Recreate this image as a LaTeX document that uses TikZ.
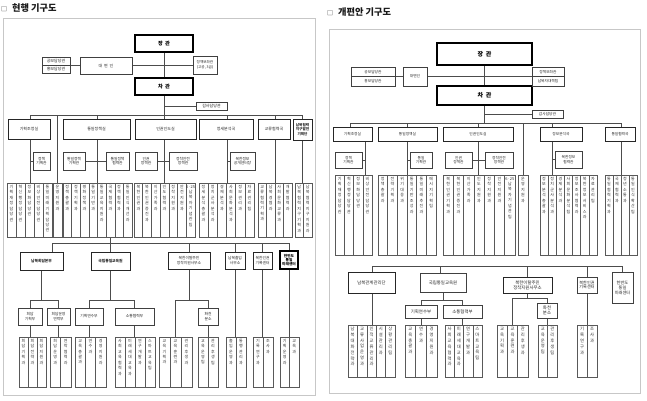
\documentclass[tikz,border=0pt]{standalone}
\usepackage{fontspec}
\setmainfont{Noto Sans CJK KR}
\usetikzlibrary{backgrounds}
\ExplSyntaxOn
\NewDocumentCommand\vt{m}{\vbox{\baselineskip=1.36em\lineskiplimit=-\maxdimen\exp_args:No\tl_map_inline:nn{#1}{\hbox_to_wd:nn{1em}{\hss##1\hss}}}}
\ExplSyntaxOff
\tikzset{
  ln/.style={draw=black!70, line width=0.5pt},
  bx/.style={draw=black!75, line width=0.55pt, fill=white, inner sep=0pt, outer sep=0pt, align=center, font=\fontsize{4}{4.7}\selectfont, text=black!85},
  big/.style={draw=black, line width=1.5pt, font=\fontsize{5.2}{6}\selectfont\bfseries, text=black},
  mid/.style={draw=black!85, line width=0.9pt},
  rs/.style={font=\fontsize{3.7}{4.4}\selectfont},
  rl/.style={font=\fontsize{4.4}{5.2}\selectfont},
  colbox/.style={draw=black!65, line width=0.45pt, fill=white, inner sep=0pt, outer sep=0pt},
  coltext/.style={inner sep=0pt, font=\fontsize{4}{5}\selectfont, text=black!80},
  rlc/.style={font=\fontsize{4.3}{5}\selectfont},
  frame/.style={draw=black!22, line width=0.8pt},
  ttl/.style={anchor=west, inner sep=0pt, font=\fontsize{9.2}{10}\selectfont\bfseries, text=black!90}
}
% box by corners: [style]{name}{x1}{y1}{x2}{y2}{text}
\newcommand\Bx[7][]{\node[bx,#1,minimum width={(#5-#3)*1pt},minimum height={(#6-#4)*1pt}] (#2) at ({(#3+#5)/2},{(#4+#6)/2}) {#7};}
% column group: [text style]{name}{x1}{y1}{x2}{y2}{list}
\newcommand\cg[7][]{%
  \foreach \ctext [count=\ci] in {#7} {\xdef\ncols{\ci}}%
  \foreach \ctext [count=\ci] in {#7} {%
    \pgfmathsetmacro\cxa{#3+(#5-#3)*(\ci-1)/\ncols}%
    \pgfmathsetmacro\cxb{#3+(#5-#3)*\ci/\ncols}%
    \node[colbox,anchor=north west,minimum width={(\cxb-\cxa)*1pt},minimum height={(#6-#4)*1pt}] (#2-\ci) at (\cxa,#4) {};%
    \node[coltext,#1,anchor=north] (#2-\ci-t) at ([yshift=-2pt]#2-\ci.north) {\vt{\ctext}};%
  }%
}
\begin{document}
\begin{tikzpicture}[x=1pt,y=-1pt]
\useasboundingbox (0,0) rectangle (647,400);
\draw[frame] (3,18) rectangle (315,395);
\draw[frame] (329,29) rectangle (640,393);
\node[ttl] (title1) at (1,8) {{\mdseries\fontsize{6}{6.5}\selectfont □}\hspace{5pt}현행 기구도};
\node[ttl] (title2) at (327,12.5) {{\mdseries\fontsize{6}{6.5}\selectfont □}\hspace{5pt}개편안 기구도};

% ================= LEFT (current) =================
\Bx[big]{Ljang}{135}{35}{193}{52}{장\ \ 관}
\Bx[big]{Lcha}{135}{78}{193}{95}{차\ \ 관}
\Bx{Lgongbo}{42}{57}{70}{65}{공보담당관}
\Bx{Lhongbo}{42}{65}{70}{73}{홍보담당관}
\Bx{Ldae}{80}{57}{132}{74}{대\ \ 변\ \ 인}
\Bx[font=\fontsize{3.6}{4.4}\selectfont]{Lbojwa}{193}{56}{217}{74}{정책보좌관\\(고공, 3급)}
\Bx{Lgamsa}{196}{102}{227}{110}{감사담당관}
\Bx[mid]{Lkj}{8}{119}{50}{139}{기획조정실}
\Bx[mid]{Ltj}{63}{119}{130}{139}{통일정책실}
\Bx[mid]{Lin}{135}{119}{196}{139}{인권인도실}
\Bx[mid]{Ljs}{199}{119}{253}{139}{정세분석국}
\Bx[mid]{Lgr}{258}{119}{290}{139}{교류협력국}
\Bx[mid,font=\fontsize{3.6}{4.2}\selectfont\bfseries]{Lnb}{293}{119}{312}{140}{남북협력\\지구발전\\기획단}
\Bx[font=\fontsize{3.8}{4.5}\selectfont]{Lkj2}{33}{152}{50}{170}{정책\\기획관}
\Bx[font=\fontsize{3.8}{4.5}\selectfont]{Ltj2a}{63}{152}{85}{170}{통일정책\\기획관}
\Bx[font=\fontsize{3.8}{4.5}\selectfont]{Ltj2b}{106}{152}{129}{170}{통일정책\\협력관}
\Bx[font=\fontsize{3.8}{4.5}\selectfont]{Lin2a}{135}{152}{157}{170}{인권\\정책관}
\Bx[font=\fontsize{3.8}{4.5}\selectfont]{Lin2b}{169}{152}{197}{170}{정착안전\\정책관}
\Bx[font=\fontsize{3.8}{4.5}\selectfont]{Ljs2}{230}{152}{255}{170}{북한정보\\공개센터장}

\cg{LKJ}{7}{183}{52}{237}{기획재정담당관,혁신행정담당관,정보화담당관,비상안전담당관,통일미래기획담당관}
\cg{LUJ}{53}{183}{62}{237}{운영지원과}
\cg{LTJ}{63}{183}{132}{237}{정책총괄과,정책기획과,평화정책과,통일기반과,통일교육지원과,국제협력과,정책협력과,통일인식개선과}
\cg{LIN}{134}{183}{195}{237}{북한인권과,북한인권증진과,이산가족과,인도협력과,정착지원과,안전지원과,{6·25}납북자기념관팀}
\cg{LJS}{199}{183}{254}{237}{정세분석총괄과,정치군사분석과,경제분석과,사회문화분석과,정보관리과,자료관리팀}
\cg{LGR}{258}{183}{292}{237}{교류협력기획과,남북경협과,사회문화교류과,개발협력과}
\cg{LNB}{295}{183}{312}{237}{남북협력지구기획과,남북협력지구지원과}

\Bx[mid,font=\fontsize{3.8}{4.5}\selectfont\bfseries]{Lhd}{20}{252}{63}{270}{남북회담본부}
\Bx[mid,font=\fontsize{3.8}{4.5}\selectfont\bfseries]{Ledu}{91}{252}{130}{270}{국립통일교육원}
\Bx[mid,font=\fontsize{3.8}{4.5}\selectfont]{Ltal}{168}{252}{210}{269}{북한이탈주민\\정착지원사무소}
\Bx[mid,font=\fontsize{3.8}{4.5}\selectfont]{Lcr}{225}{252}{245}{269}{남북출입\\사무소}
\Bx[mid,font=\fontsize{3.8}{4.5}\selectfont]{Lhr}{253}{252}{272}{269}{북한인권\\기록센터}
\Bx[big,font=\fontsize{3.7}{4.3}\selectfont\bfseries]{Lfut}{280}{251}{298}{269}{한반도\\통일\\미래센터}
\Bx[font=\fontsize{3.8}{4.5}\selectfont]{Lhd1}{18}{308}{42}{325}{회담\\기획부}
\Bx[font=\fontsize{3.8}{4.5}\selectfont]{Lhd2}{47}{308}{70}{325}{회담운영\\연락부}
\Bx[font=\fontsize{3.8}{4.5}\selectfont]{Ledu1}{75}{308}{103}{325}{기획연수부}
\Bx[font=\fontsize{3.8}{4.5}\selectfont]{Ledu2}{115}{308}{154}{325}{소통협력부}
\Bx[font=\fontsize{3.8}{4.5}\selectfont]{Lhc}{198}{308}{218}{325}{화천\\분소}

\cg{LHDa}{19}{337}{46}{387}{회담기획과,회담전략과,회담지원과}
\cg{LHDb}{50}{337}{71}{387}{회담운영과,연락협력과}
\cg{LEDa}{75}{337}{106}{387}{교육총괄과,연수과,경영지원과}
\cg{LEDb}{115}{337}{155}{387}{사회교육협력과,미래세대교육과,연구개발과,스마트교육팀}
\cg{LTA}{159}{337}{192}{387}{교육기획과,교육훈련과,관리후생과}
\cg{LHC}{198}{337}{218}{387}{교육운영팀,관리후생팀}
\cg{LCR}{226}{337}{246}{387}{출입운영과,통행관리과}
\cg{LHR}{253}{337}{273}{387}{기록연구과,조사과}
\cg{LFU}{280}{337}{299}{387}{기획운영과,교육과}

\coordinate (LB) at (164,115);
\coordinate (LB1) at (30,115);
\coordinate (LB3) at (97,115);
\coordinate (LB5) at (227,115);
\coordinate (LB6) at (275,115);
\coordinate (LB7) at (302.5,115);
\coordinate (LC) at (110,243);
\coordinate (LC1) at (52,243);
\coordinate (LS) at (0,300);

% ================= RIGHT (proposal) =================
\Bx[big,font=\fontsize{6}{7}\selectfont\bfseries]{Rjang}{437}{43}{532}{65}{장\ \ 관}
\Bx[big,font=\fontsize{6}{7}\selectfont\bfseries]{Rcha}{437}{86}{532}{105}{차\ \ 관}
\Bx[rs]{Rgongbo}{351}{67}{395}{76.5}{공보담당관}
\Bx[rs]{Rhongbo}{351}{76.5}{395}{86}{홍보담당관}
\Bx[rs]{Rdae}{403}{67}{427}{86}{대변인}
\Bx[rs]{Rbojwa}{532}{67}{564}{76.5}{정책보좌관}
\Bx[rs]{Rnabuk}{532}{76.5}{564}{86}{납북자대책팀}
\Bx[rs]{Rgamsa}{532}{110}{563}{118}{감사담당관}
\Bx[rs,mid]{Rkj}{333}{127}{372}{141}{기획조정실}
\Bx[rs,mid]{Rtj}{378}{127}{437}{141}{통일정책실}
\Bx[rs,mid]{Rin}{443}{127}{513}{141}{인권인도실}
\Bx[rs,mid]{Rjb}{540}{127}{582}{141}{정보분석국}
\Bx[rs,mid]{Rtc}{605}{127}{635}{141}{통일협력국}
\Bx[rs]{Rkj2}{335}{152}{362}{168}{정책\\기획관}
\Bx[rs]{Rtj2}{410}{152}{432}{168}{통일\\기획관}
\Bx[rs]{Rin2a}{445}{152}{472}{168}{인권\\정책관}
\Bx[rs]{Rin2b}{485}{152}{513}{168}{정착안전\\정책관}
\Bx[rs]{Rjb2}{555}{151}{582}{168}{북한정보\\협력관}

\cg{RKJ}{335}{175}{372}{255}{기획재정담당관,혁신행정담당관,정보화담당관,비상안전담당관}
\cg{RTJ}{378}{175}{436}{255}{정책총괄과,전략기획과,위기대응과,통일기반조성과,통일미래추진과,메시지기획팀}
\cg{RIN}{443}{175}{515}{255}{북한인권기획과,북한인권증진과,이산가족과,인도지원과,정착지원과,안전지원과,{6·25}납북자기념관팀}
\cg{RUJ}{518}{175}{528}{255}{운영지원과}
\cg{RJB}{540}{175}{597}{255}{정보분석총괄과,정치군사분석과,경제분석과,사회문화분석팀,정보조사협력과,북한정보서비스과,자료관리팀}
\cg{RTC}{605}{175}{637}{255}{통일협력기획과,국제협력과,청년소통과,통일인식확산팀}

\Bx[rl,mid]{Rnr}{348}{272}{395}{293}{남북관계관리단}
\Bx[rl]{Redu}{420}{273}{466}{292}{국립통일교육원}
\Bx[rl]{Redu1}{405}{305}{437}{318}{기획연수부}
\Bx[rl]{Redu2}{443}{305}{482}{318}{소통협력부}
\Bx[rl,mid]{Rtal}{503}{277}{552}{293}{북한이탈주민\\정착지원사무소}
\Bx[rl]{Rhc}{537}{303}{557}{318}{화천\\분소}
\Bx[font=\fontsize{4.1}{4.9}\selectfont]{Rhr}{577}{277}{597}{293}{북한인권\\기록센터}
\Bx[font=\fontsize{4.2}{5}\selectfont]{Rfut}{612}{272}{633}{303}{한반도\\통일\\미래센터}

\cg[rlc]{RNR}{348}{325}{395}{377}{남북대화전략과,교류사업운영과,인적교류관리과,시설관리과,상황관리팀}
\cg[rlc]{REDa}{405}{325}{437}{377}{교육총괄과,연수과,경영지원과}
\cg[rlc]{REDb}{445}{325}{482}{377}{사회교육협력과,미래세대교육과,연구개발과,스마트교육팀}
\cg[rlc]{RTA}{497}{325}{528}{377}{교육기획과,교육훈련과,관리후생과}
\cg[rlc]{RHC}{538}{325}{557}{377}{교육운영팀,관리후생팀}
\cg[rlc]{RHR}{577}{325}{597}{377}{기록연구과,조사과}

\coordinate (RB) at (484.5,123);
\coordinate (RB1) at (350,123);
\coordinate (RBr) at (621,123);
\coordinate (Rv1) at (365,134);
\coordinate (Rv5) at (552,123);
\coordinate (RC) at (372,266);
\coordinate (RCe) at (440,266);
\coordinate (RS) at (0,300);
\coordinate (RS2) at (0,298);

\begin{pgfonlayer}{background}
\fill[white] (0,0) rectangle (647,400);
% left top
\draw[ln] (Ljang) -- (Lcha);
\draw[ln] (Lcha) -- (LB);
\draw[ln] (Lgongbo.south east) -- (Ldae.west |- Lgongbo.south east);
\draw[ln] (Ldae.east) -- (Lbojwa.west |- Ldae.east);
\draw[ln] (Lgamsa.west -| LB) -- (Lgamsa.west);
\draw[ln] (LB1) -- (LB7);
\draw[ln] (LB1) -- (LB1 |- LKJ-1.north);
\draw[ln] (LUJ-1.north |- LB1) -- (LUJ-1.north);
\draw[ln] (LB3) -- (LB3 |- LTJ-1.north);
\draw[ln] (LB) -- (LB |- LIN-1.north);
\draw[ln] (LB5) -- (LB5 |- LJS-1.north);
\draw[ln] (LB6) -- (LB6 |- LGR-1.north);
\draw[ln] (LB7) -- (LB7 |- LNB-1.north);
\draw[ln] (Lkj2.west) -- (Lkj2.west -| LB1);
\draw[ln] (Ltj2a.east) -- (Ltj2b.west);
\draw[ln] (Lin2a.east) -- (Lin2b.west);
\draw[ln] (Ljs2.west) -- (Ljs2.west -| LB5);
% left bottom
\draw[ln] (LC |- LTJ-1.south) -- (LC);
\draw[ln] (LC1) -- (Lfut.north |- LC);
\draw[ln] (LC1) -- (LC1 |- Lhd.north);
\draw[ln] (LC) -- (LC |- Ledu.north);
\draw[ln] (Ltal.north |- LC) -- (Ltal.north);
\draw[ln] (Lcr.north |- LC) -- (Lcr.north);
\draw[ln] (Lhr.north |- LC) -- (Lhr.north);
\draw[ln] (Lfut.north |- LC) -- (Lfut.north);
\draw[ln] (Lhd.south) -- (Lhd.south |- LS);
\draw[ln] (Lhd1.north |- LS) -- (Lhd2.north |- LS);
\draw[ln] (Lhd1.north |- LS) -- (Lhd1.north);
\draw[ln] (Lhd2.north |- LS) -- (Lhd2.north);
\draw[ln] (Lhd1.south) -- (Lhd1.south |- LHDa-1.north);
\draw[ln] (Lhd2.south) -- (Lhd2.south |- LHDb-1.north);
\draw[ln] (Ledu.south) -- (Ledu.south |- LS);
\draw[ln] (Ledu1.north |- LS) -- (Ledu2.north |- LS);
\draw[ln] (Ledu1.north |- LS) -- (Ledu1.north);
\draw[ln] (Ledu2.north |- LS) -- (Ledu2.north);
\draw[ln] (Ledu1.south) -- (Ledu1.south |- LEDa-1.north);
\draw[ln] (Ledu2.south) -- (Ledu2.south |- LEDb-1.north);
\draw[ln] (Ltal.south) -- (Ltal.south |- LS);
\draw[ln] (LTA-2.north |- LS) -- (Lhc.north |- LS);
\draw[ln] (LTA-2.north |- LS) -- (LTA-2.north);
\draw[ln] (Lhc.north |- LS) -- (Lhc.north);
\draw[ln] (Lhc.south) -- (Lhc.south |- LHC-1.north);
\draw[ln] (Lcr.south) -- (Lcr.south |- LCR-1.north);
\draw[ln] (Lhr.south) -- (Lhr.south |- LHR-1.north);
\draw[ln] (Lfut.south) -- (Lfut.south |- LFU-1.north);
% right top
\draw[ln] (Rjang) -- (Rcha);
\draw[ln] (Rcha) -- (RB);
\draw[ln] (Rgongbo.south east) -- (Rdae.west |- Rgongbo.south east);
\draw[ln] (Rdae.east) -- (Rbojwa.west |- Rdae.east);
\draw[ln] (Rgamsa.west -| RB) -- (Rgamsa.west);
\draw[ln] (RB1) -- (RBr);
\draw[ln] (RB1) -- (RB1 |- Rkj.north);
\draw[ln] (Rv1) -- (Rv1 |- RKJ-1.north);
\draw[ln] (Rtj.north |- RB) -- (Rtj.north |- RTJ-1.north);
\draw[ln] (Rin.north |- RB) -- (Rin.north |- RIN-1.north);
\draw[ln] (RUJ-1.north |- RB) -- (RUJ-1.north);
\draw[ln] (Rv5) -- (Rv5 |- RJB-1.north);
\draw[ln] (RBr) -- (RBr |- RTC-1.north);
\draw[ln] (Rkj2.east) -- (Rkj2.east -| Rv1);
\draw[ln] (Rtj2.west) -- (Rtj2.west -| Rtj.north);
\draw[ln] (Rin2a.east) -- (Rin2b.west);
\draw[ln] (Rjb2.west) -- (Rjb2.west -| Rv5);
% right bottom
\draw[ln] (RC) -- (Rfut.north |- RC);
\draw[ln] (RC) -- (RC |- RNR-1.north);
\draw[ln] (RCe) -- (RCe |- Redu.north);
\draw[ln] (Redu.south) -- (Redu.south |- RS);
\draw[ln] (Redu1.north |- RS) -- (Redu2.north |- RS);
\draw[ln] (Redu1.north |- RS) -- (Redu1.north);
\draw[ln] (Redu2.north |- RS) -- (Redu2.north);
\draw[ln] (Redu1.south) -- (Redu1.south |- REDa-1.north);
\draw[ln] (Redu2.south) -- (Redu2.south |- REDb-1.north);
\draw[ln] (Rtal.north |- RC) -- (Rtal.north);
\draw[ln] (Rtal.south) -- (Rtal.south |- RS2);
\draw[ln] (RTA-2.north |- RS2) -- (Rhc.north |- RS2);
\draw[ln] (RTA-2.north |- RS2) -- (RTA-2.north);
\draw[ln] (Rhc.north |- RS2) -- (Rhc.north);
\draw[ln] (Rhc.south) -- (Rhc.south |- RHC-1.north);
\draw[ln] (Rhr.north |- RC) -- (Rhr.north |- RHR-1.north);
\draw[ln] (Rfut.north |- RC) -- (Rfut.north);
\end{pgfonlayer}
\end{tikzpicture}
\end{document}
